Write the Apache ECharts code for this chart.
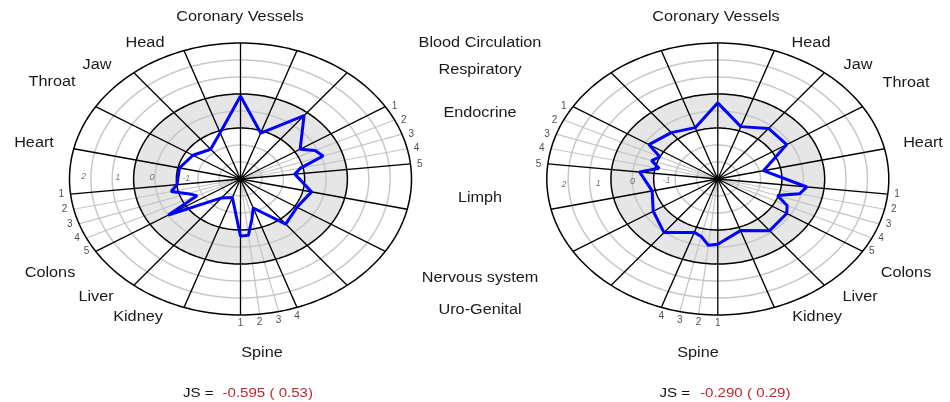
<!DOCTYPE html>
<html>
<head>
<meta charset="utf-8">
<script src="https://cdn.jsdelivr.net/npm/echarts@6.0.0/dist/echarts.min.js"></script>
<style>
html,body{margin:0;padding:0;background:#ffffff;}
#chart{width:950px;height:402px;}
</style>
</head>
<body>
<div id="chart"></div>
<script>
// ================= DATA =================
// 56 equal angular steps around the circle; spokes sit at these step indices
// (clockwise from the top in the left panel, mirrored in the right panel)
const spokeSteps = [0,3,6,9,10,11,12,13,16,19,22,25,26,27,28,31,34,37,38,39,40,41,44,47,50,53];
const minorSteps = [10,11,12,26,27,38,39,40];
const leftValues  = [0.55,-0.71,0.48,-0.44,-0.08,0.06,-0.70,-0.90,-0.37,-0.55,-0.38,-1.37,-1.00,-0.42,-0.40,-1.78,-1.61,-0.01,-1.09,-0.87,-0.42,-0.63,-0.67,-0.86,-1.10,-0.70];
const rightValues = [0.30,-0.50,-0.32,-0.12,-0.62,-0.45,-0.74,-0.20,-0.53,-0.27,0.02,-0.42,-0.33,-0.05,-0.10,-0.49,-0.07,-0.12,-0.25,-0.65,-0.05,0.12,-1.13,-0.12,-0.12,-0.46];
const radialMin = -2.5;
const radialMax = 2.5;
const ringValues = [-1.875,-1.25,-0.625,0,0.625,1.25,1.875,2.5];
const majorRings = [-0.625,0.625,2.5];
const bandRange = [-0.625,0.625];
const tickValues = [2,1,0,-1];
const tickLabels = ['2','1','0','-1'];
const groupASteps = [9,10,11,12,13];   const groupALabels = ['1','2','3','4','5'];
const groupBSteps = [28,27,26,25];     const groupBLabels = ['1','2','3','4'];
const groupCSteps = [41,40,39,38,37];  const groupCLabels = ['1','2','3','4','5'];
const sideLabels = ['Coronary Vessels','Head','Jaw','Throat','Heart','Colons','Liver','Kidney','Spine'];
const middleLabels = ['Blood Circulation','Respiratory','Endocrine','Limph','Nervous system','Uro-Genital'];
const scorePrefix = 'JS =';
const scoreTexts = ['-0.595 ( 0.53)','-0.290 ( 0.29)'];

// ================= LAYOUT =================
const STEP_DEG = 360 / 56;
const FONT = 'Liberation Sans, Arial, Helvetica, sans-serif';
const TEXT_SCALE = 1.16;
const leftLabelPos  = [[240,17],[145,43],[97,65],[52,82],[34,143],[50,273],[96,297],[138,317],[262,353]];
const rightLabelPos = [[716,17],[811,43],[858,65],[906,83],[923,143],[906,273],[860,297],[817,317],[698,353]];
const middleLabelPos = [[480,43],[480,70],[480,113],[480,198],[480,278],[480,310]];

const panels = [
  {grid:{left:69.5, top:43, width:342, height:272}, mirror:false, values:leftValues, tickAngle:179, tickOffset:[-3,0],
   scoreX:[213.5,222.5], labelPos:leftLabelPos},
  {grid:{left:546.8, top:43, width:342, height:272}, mirror:true, values:rightValues, tickAngle:182.5, tickOffset:[0,0],
   scoreX:[690,700], labelPos:rightLabelPos}
];

function rNorm(v){ return (v - radialMin) / (radialMax - radialMin); }
function angleOf(k, mirror){ return (mirror ? 90 + k*STEP_DEG : 90 - k*STEP_DEG) * Math.PI / 180; }
function polarPoint(v, k, mirror){
  const r = rNorm(v), a = angleOf(k, mirror);
  return [r*Math.cos(a), r*Math.sin(a)];
}
function ellipse(api, r){
  const pts = [];
  for (let i = 0; i < 240; i++){
    const t = i/240*Math.PI*2;
    pts.push(api.coord([r*Math.cos(t), r*Math.sin(t)]));
  }
  return pts;
}

const grids = [], xAxes = [], yAxes = [], series = [], graphics = [];

panels.forEach(function(p, gi){
  grids.push(Object.assign({containLabel:false}, p.grid));
  xAxes.push({type:'value', gridIndex:gi, min:-1, max:1, show:false});
  yAxes.push({type:'value', gridIndex:gi, min:-1, max:1, show:false});
  const base = {xAxisIndex:gi, yAxisIndex:gi, silent:true, animation:false};

  // shaded band
  series.push(Object.assign({type:'custom', data:[[0,0,bandRange[0],bandRange[1]]],
    renderItem:function(params, api){
      return {type:'group', children:[
        {type:'polygon', shape:{points:ellipse(api, rNorm(api.value(3)))}, style:{fill:'#e6e6e6'}},
        {type:'polygon', shape:{points:ellipse(api, rNorm(api.value(2)))}, style:{fill:'#ffffff'}}
      ]};
    }}, base));

  function ringSeries(vals, color, width){
    return Object.assign({type:'custom', data:vals.map(function(v){return [0,0,v];}),
      renderItem:function(params, api){
        return {type:'polygon', shape:{points:ellipse(api, rNorm(api.value(2)))},
                style:{fill:'none', stroke:color, lineWidth:width}};
      }}, base);
  }
  function spokeSeries(steps, color, width){
    return Object.assign({type:'custom', data:steps.map(function(k){return [0,0,k];}),
      renderItem:function(params, api){
        const a = angleOf(api.value(2), p.mirror);
        const p0 = api.coord([0,0]), p1 = api.coord([Math.cos(a), Math.sin(a)]);
        return {type:'line', shape:{x1:p0[0],y1:p0[1],x2:p1[0],y2:p1[1]},
                style:{stroke:color, lineWidth:width}};
      }}, base);
  }
  const minorRings = ringValues.filter(function(v){return majorRings.indexOf(v) < 0;});
  const majorSteps = spokeSteps.filter(function(k){return minorSteps.indexOf(k) < 0;});
  series.push(ringSeries(minorRings, '#c8c8c8', 1.5));
  series.push(spokeSeries(minorSteps, '#c4c4c4', 1.2));
  series.push(ringSeries(majorRings, '#000000', 1.5));
  series.push(spokeSeries(majorSteps, '#000000', 1.3));

  // profile line
  const pts = p.values.map(function(v, i){ return polarPoint(v, spokeSteps[i], p.mirror); });
  pts.push(pts[0]);
  series.push(Object.assign({type:'line', data:pts, symbol:'none', smooth:false, clip:false,
    lineStyle:{color:'#0000ff', width:3}}, base));

  // group number labels at the rim
  function groupSeries(steps, labels, pos, dist){
    return Object.assign({type:'scatter', clip:false, symbolSize:1, itemStyle:{color:'rgba(0,0,0,0)'},
      data:steps.map(function(k, i){ return {value:polarPoint(radialMax, k, p.mirror), name:labels[i]}; }),
      label:{show:true, formatter:'{b}', position:pos, distance:dist, fontSize:10, fontFamily:FONT, color:'#222'}}, base);
  }
  series.push(groupSeries(groupASteps, groupALabels, p.mirror ? 'left' : 'right', 6));
  series.push(groupSeries(groupBSteps, groupBLabels, 'bottom', 3));
  series.push(groupSeries(groupCSteps, groupCLabels, p.mirror ? 'right' : 'left', 6));

  // radial tick labels
  const ta = p.tickAngle * Math.PI / 180;
  series.push(Object.assign({type:'scatter', clip:false, symbolSize:1, itemStyle:{color:'rgba(0,0,0,0)'},
    data:tickValues.map(function(v, i){ const r = rNorm(v); return {value:[r*Math.cos(ta), r*Math.sin(ta)], name:tickLabels[i]}; }),
    label:{show:true, formatter:'{b}', position:'inside', offset:p.tickOffset, fontSize:9, fontStyle:'italic', fontFamily:FONT, color:'#555'}}, base));

  // category labels
  sideLabels.forEach(function(s, i){
    graphics.push({type:'text', x:p.labelPos[i][0], y:p.labelPos[i][1], scaleX:TEXT_SCALE, silent:true,
      style:{text:s, fontSize:14, fontFamily:FONT, fill:'#1a1a1a', align:'center', verticalAlign:'middle'}});
  });
  // score
  graphics.push({type:'text', x:p.scoreX[0], y:393, scaleX:TEXT_SCALE, silent:true,
    style:{text:scorePrefix, fontSize:13, fontFamily:FONT, fill:'#111', align:'right', verticalAlign:'middle'}});
  graphics.push({type:'text', x:p.scoreX[1], y:393, scaleX:TEXT_SCALE, silent:true,
    style:{text:scoreTexts[gi], fontSize:13, fontFamily:FONT, fill:'#c0272d', align:'left', verticalAlign:'middle'}});
});

middleLabels.forEach(function(s, i){
  graphics.push({type:'text', x:middleLabelPos[i][0], y:middleLabelPos[i][1], scaleX:TEXT_SCALE, silent:true,
    style:{text:s, fontSize:14, fontFamily:FONT, fill:'#1a1a1a', align:'center', verticalAlign:'middle'}});
});

const chart = echarts.init(document.getElementById('chart'), null, {renderer:'canvas'});
chart.setOption({
  animation:false,
  backgroundColor:'#ffffff',
  grid:grids, xAxis:xAxes, yAxis:yAxes,
  series:series,
  graphic:graphics
});
</script>
</body>
</html>
